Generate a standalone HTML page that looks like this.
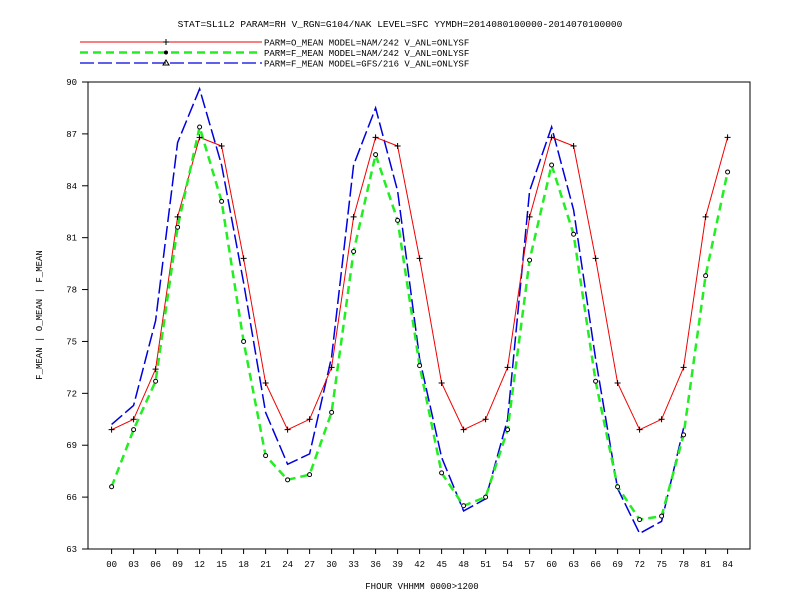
<!DOCTYPE html>
<html><head><meta charset="utf-8"><style>
html,body{margin:0;padding:0;background:#fff;}
svg{display:block;font-family:"Liberation Mono",monospace;}
</style></head><body>
<svg id="chart" width="792" height="612" viewBox="0 0 792 612" xmlns="http://www.w3.org/2000/svg">
<rect width="792" height="612" fill="#fff"/>
<text x="400" y="27" font-size="9.5" text-anchor="middle" fill="#000">STAT=SL1L2 PARAM=RH V_RGN=G104/NAK LEVEL=SFC YYMDH=2014080100000-2014070100000</text>
<g id="legend"></g>
<rect x="88" y="82" width="662" height="467" fill="none" stroke="#000" stroke-width="1"/>
<g id="axes"></g>
<g id="series"></g>
<text transform="translate(42,315) rotate(-90)" font-size="9" text-anchor="middle" fill="#000">F_MEAN | O_MEAN | F_MEAN</text>
<text x="422" y="589" font-size="9" text-anchor="middle" fill="#000">FHOUR VHHMM 0000&gt;1200</text>
</svg>
<script>
const categories = ["00","03","06","09","12","15","18","21","24","27","30","33","36","39","42","45","48","51","54","57","60","63","66","69","72","75","78","81","84"];
const yTicks = [63,66,69,72,75,78,81,84,87,90];
const obsMean = [69.9,70.5,73.4,82.2,86.8,86.3,79.8,72.6,69.9,70.5,73.5,82.2,86.8,86.3,79.8,72.6,69.9,70.5,73.5,82.2,86.8,86.3,79.8,72.6,69.9,70.5,73.5,82.2,86.8];
const namMean = [66.6,69.9,72.7,81.6,87.4,83.1,75.0,68.4,67.0,67.3,70.9,80.2,85.8,82.0,73.6,67.4,65.5,66.0,69.9,79.7,85.2,81.2,72.7,66.6,64.7,64.9,69.6,78.8,84.8];
const gfsMean = [70.2,71.3,76.2,86.5,89.6,85.2,78.4,70.9,67.9,68.5,74.1,85.2,88.5,83.7,74.0,68.3,65.2,65.9,70.5,83.7,87.4,82.6,74.0,66.5,63.9,64.6,70.0];
const legendLabels = ["PARM=O_MEAN MODEL=NAM/242 V_ANL=ONLYSF","PARM=F_MEAN MODEL=NAM/242 V_ANL=ONLYSF","PARM=F_MEAN MODEL=GFS/216 V_ANL=ONLYSF"];

const NS="http://www.w3.org/2000/svg";
const x0=111.6, dx=22.0, yMin=63, yMax=90, yTop=82, yBot=549;
function xs(i){return x0+i*dx;}
function ys(v){return yBot-(v-yMin)/(yMax-yMin)*(yBot-yTop);}
function mk(tag,attrs,parent){const e=document.createElementNS(NS,tag);for(const k in attrs)e.setAttribute(k,attrs[k]);parent.appendChild(e);return e;}
const axes=document.getElementById('axes');
categories.forEach((c,i)=>{
  const t=mk('line',{x1:xs(i),x2:xs(i),y1:yBot,y2:yBot+5,stroke:'#000'},axes);
  
  
  const l=mk('text',{x:xs(i),y:yBot+18,'font-size':9,'text-anchor':'middle',fill:'#000'},axes);
  
  
  l.textContent=c;
});
yTicks.forEach(v=>{
  const t=mk('line',{x1:82,x2:88,y1:ys(v),y2:ys(v),stroke:'#000'},axes);
  
  
  const l=mk('text',{x:77,y:ys(v)+3,'font-size':9,'text-anchor':'end',fill:'#000'},axes);
  
  
  l.textContent=String(v);
});
const series=document.getElementById('series');
function drawLine(vals,color,width,dash,name){
  const pts=vals.map((v,i)=>xs(i)+','+ys(v)).join(' ');
  const p=mk('polyline',{points:pts,fill:'none',stroke:color,'stroke-width':width,'stroke-dasharray':dash},series);
  
  
}
drawLine(gfsMean,'#0000dd',1.5,'14,4','gfs-f-mean-line');
drawLine(obsMean,'#ee0000',1,'none','nam-o-mean-line');
drawLine(namMean,'#22ee22',2.5,'8,5','nam-f-mean-line');
obsMean.forEach((v,i)=>{
  const g=mk('path',{d:`M${xs(i)-3},${ys(v)}h6M${xs(i)},${ys(v)-3}v6`,stroke:'#000','stroke-width':1},series);
  
  
});
namMean.forEach((v,i)=>{
  const c=mk('circle',{cx:xs(i),cy:ys(v),r:2,fill:'#fff',stroke:'#000','stroke-width':1},series);
  
  
});
const legend=document.getElementById('legend');
const lstyles=[['#ee0000',1,'none'],['#22ee22',2.5,'8,5'],['#0000dd',1.2,'14,4']];
legendLabels.forEach((lab,k)=>{
  const y=42+k*10.5;
  const l=mk('line',{x1:80,x2:262,y1:y,y2:y,stroke:lstyles[k][0],'stroke-width':lstyles[k][1],'stroke-dasharray':lstyles[k][2]},legend);
  
  
  const t=mk('text',{x:264,y:y+3.5,'font-size':9,fill:'#000'},legend);
  
  
  t.textContent=lab;
});
mk('path',{d:'M163,42h6M166,39v6',stroke:'#000'},legend);
mk('circle',{cx:166,cy:52.5,r:2,fill:'#000'},legend);
mk('path',{d:'M163,65l3,-5l3,5z',fill:'none',stroke:'#000'},legend);
</script>
</body></html>
